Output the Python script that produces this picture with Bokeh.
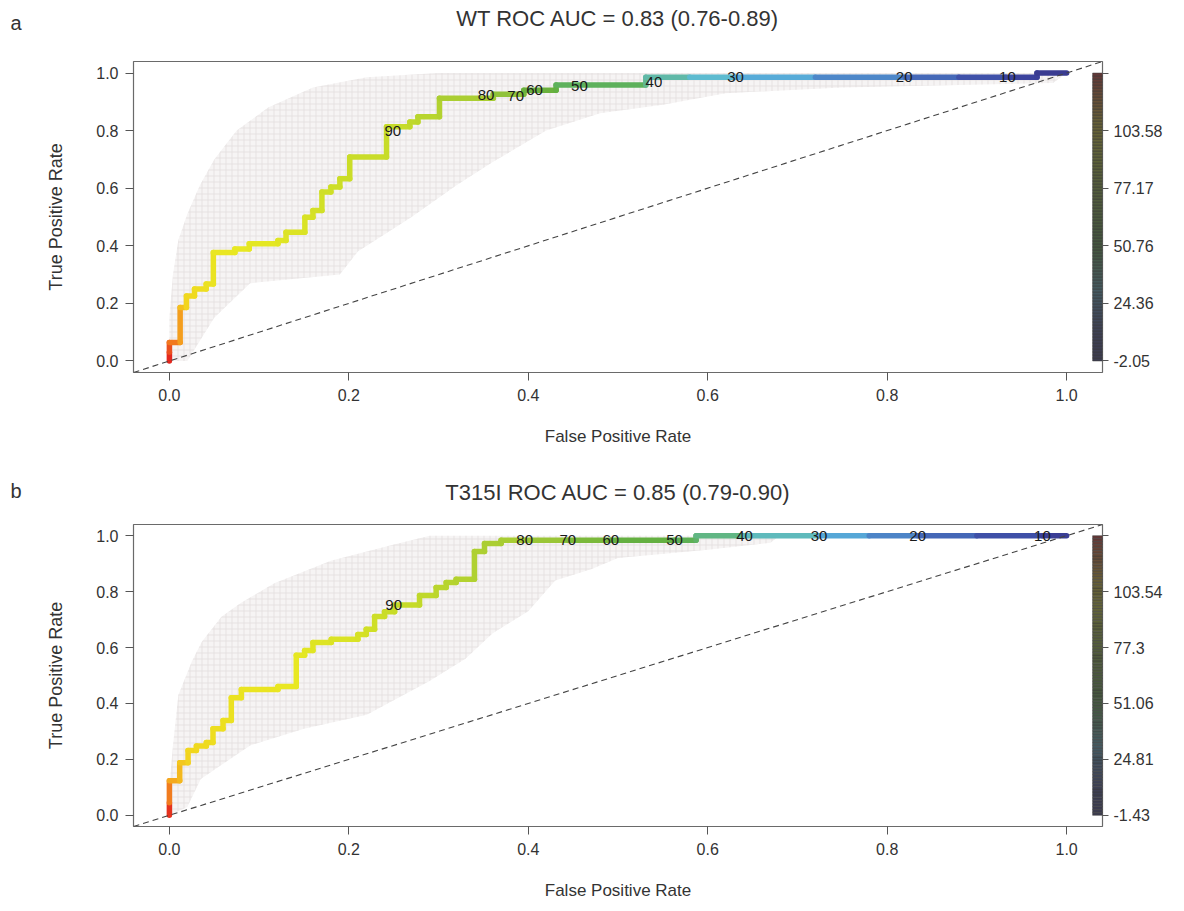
import numpy as np
from bokeh.plotting import figure
from bokeh.models import (ColumnDataSource, Range1d, LinearAxis, FixedTicker,
                          PrintfTickFormatter, Slope)
from bokeh.transform import linear_cmap
from bokeh.layouts import column
from bokeh.embed import file_html
from bokeh.resources import INLINE
from bokeh.core.properties import value

# ---------------- data ----------------
x_ticks = [0.0, 0.2, 0.4, 0.6, 0.8, 1.0]
y_ticks = [0.0, 0.2, 0.4, 0.6, 0.8, 1.0]

# Panel a (WT)
a_title = "WT ROC AUC = 0.83 (0.76-0.89)"
a_fpr = [0.000, 0.000, 0.000, 0.012, 0.012, 0.019, 0.019, 0.028, 0.028, 0.041, 0.041,
         0.049, 0.049, 0.073, 0.073, 0.089, 0.089, 0.121, 0.121, 0.130, 0.130,
         0.151, 0.151, 0.160, 0.160, 0.170, 0.170, 0.180, 0.180, 0.190, 0.190,
         0.201, 0.201, 0.242, 0.242, 0.268, 0.268, 0.277, 0.277, 0.301, 0.301,
         0.361, 0.361, 0.395, 0.395, 0.431, 0.431, 0.531, 0.531, 0.580, 0.630,
         0.720, 0.820, 0.880, 0.932, 0.967, 0.967, 1.000]
a_tpr = [0.000, 0.030, 0.064, 0.064, 0.186, 0.186, 0.226, 0.226, 0.250, 0.250, 0.267,
         0.267, 0.377, 0.377, 0.389, 0.389, 0.407, 0.407, 0.418, 0.418, 0.447,
         0.447, 0.499, 0.499, 0.523, 0.523, 0.587, 0.587, 0.604, 0.604, 0.633,
         0.633, 0.708, 0.708, 0.813, 0.813, 0.830, 0.830, 0.848, 0.848, 0.912,
         0.912, 0.926, 0.926, 0.940, 0.940, 0.958, 0.958, 0.985, 0.985, 0.985,
         0.985, 0.985, 0.985, 0.985, 0.985, 1.000, 1.000]
a_cut = [129.99, 127, 122, 118, 112, 108, 106, 105, 104, 103, 102,
         101, 100, 99, 98.5, 98, 97.5, 97, 96.5, 96, 95.5,
         95, 94.5, 94, 93.5, 93, 92.5, 92, 91.8, 91.6, 91.4,
         91.2, 91, 90.5, 90, 89, 88, 87, 86, 85, 83,
         79, 77, 66, 62, 55, 53, 41, 40, 35, 30,
         25, 20, 15, 10, 7, 5, -2.05]
a_lab_txt = ["90", "80", "70", "60", "50", "40", "30", "20", "10"]
a_lab_x = [0.249, 0.353, 0.386, 0.407, 0.457, 0.540, 0.631, 0.819, 0.934]
a_lab_y = [0.800, 0.922, 0.921, 0.940, 0.955, 0.970, 0.987, 0.987, 0.985]
a_band_x = [0.0, 0.0, 0.004, 0.01, 0.02, 0.034, 0.05, 0.075, 0.11, 0.16, 0.22, 0.30, 1.0,
            0.985, 0.75, 0.62, 0.55, 0.48, 0.42, 0.36, 0.32, 0.27, 0.21, 0.19, 0.09, 0.05, 0.03, 0.02]
a_band_y = [0.0, 0.15, 0.30, 0.42, 0.51, 0.61, 0.70, 0.80, 0.88, 0.95, 0.985, 1.0, 1.0,
            0.965, 0.95, 0.93, 0.89, 0.86, 0.80, 0.69, 0.61, 0.50, 0.38, 0.30, 0.27, 0.15, 0.05, 0.0]
a_cb_ticks = [-2.05, 24.36, 50.76, 77.17, 103.58, 129.99]
a_cb_labels = ["-2.05", "24.36", "50.76", "77.17", "103.58", ""]

# Panel b (T315I)
b_title = "T315I ROC AUC = 0.85 (0.79-0.90)"
b_fpr = [0.000, 0.000, 0.000, 0.0115, 0.0115, 0.0208, 0.0208, 0.0301, 0.0301, 0.0412, 0.0412,
         0.0486, 0.0486, 0.0598, 0.0598, 0.0690, 0.0690, 0.0802, 0.0802, 0.1210, 0.1210,
         0.1414, 0.1414, 0.1507, 0.1507, 0.1600, 0.1600, 0.1804, 0.1804, 0.2101, 0.2101,
         0.2194, 0.2194, 0.2287, 0.2287, 0.2398, 0.2398, 0.2510, 0.2510, 0.2788, 0.2788,
         0.2973, 0.2973, 0.3085, 0.3085, 0.3196, 0.3196, 0.3400, 0.3400, 0.3512, 0.3512,
         0.3697, 0.3697, 0.396, 0.444, 0.492, 0.563, 0.587, 0.587, 0.641, 0.724,
         0.780, 0.834, 0.900, 0.973, 1.000]
b_tpr = [0.000, 0.045, 0.124, 0.124, 0.188, 0.188, 0.232, 0.232, 0.248, 0.248, 0.260,
         0.260, 0.310, 0.310, 0.339, 0.339, 0.420, 0.420, 0.450, 0.450, 0.461,
         0.461, 0.572, 0.572, 0.589, 0.589, 0.618, 0.618, 0.630, 0.630, 0.647,
         0.647, 0.665, 0.665, 0.711, 0.711, 0.728, 0.728, 0.752, 0.752, 0.786,
         0.786, 0.815, 0.815, 0.833, 0.833, 0.844, 0.844, 0.943, 0.943, 0.972,
         0.972, 0.984, 0.984, 0.984, 0.984, 0.984, 0.984, 1.000, 1.000, 1.000,
         1.000, 1.000, 1.000, 1.000, 1.000]
b_cut = [129.78, 125, 114, 112, 110, 108, 107, 106, 105, 104.5, 104,
         103.5, 103, 102.5, 102, 101.5, 101, 100.5, 100, 99.5, 99,
         98.5, 98, 97.5, 97, 96.5, 96, 95.5, 95, 94.5, 94,
         93.5, 93, 92.5, 92, 91.5, 91, 90.5, 90, 89, 88,
         87, 86, 85.5, 85, 84.5, 84, 83.5, 82.5, 82, 81.5,
         81, 80.5, 80, 70, 60, 50, 47, 45, 40, 30,
         25, 20, 15, 10, -1.43]
b_lab_txt = ["90", "80", "70", "60", "50", "40", "30", "20", "10"]
b_lab_x = [0.250, 0.396, 0.444, 0.492, 0.563, 0.641, 0.724, 0.834, 0.973]
b_lab_y = [0.752, 0.985, 0.985, 0.985, 0.985, 1.000, 0.999, 0.999, 0.999]
b_band_x = [0.0, 0.0, 0.004, 0.01, 0.025, 0.036, 0.058, 0.08, 0.117, 0.18, 0.247, 0.29, 0.68,
            0.67, 0.60, 0.50, 0.47, 0.43, 0.40, 0.36, 0.33, 0.29, 0.22, 0.15, 0.09, 0.035, 0.02]
b_band_y = [0.0, 0.10, 0.25, 0.43, 0.55, 0.62, 0.71, 0.76, 0.83, 0.91, 0.966, 1.0, 1.0,
            0.975, 0.95, 0.92, 0.88, 0.84, 0.73, 0.65, 0.56, 0.48, 0.36, 0.31, 0.25, 0.13, 0.03]
b_cb_ticks = [-1.43, 24.81, 51.06, 77.30, 103.54, 129.78]
b_cb_labels = ["-1.43", "24.81", "51.06", "77.3", "103.54", ""]

# ---------------- styling helpers ----------------
FONT = "Liberation Sans"
TXT = "#333333"
W = 1180

pal_anchors = [(0.00, "#38388c"), (0.09, "#3c44a0"), (0.167, "#4878c2"), (0.243, "#5cbce0"),
               (0.318, "#62b894"), (0.394, "#5cae46"), (0.47, "#6cb23c"), (0.545, "#8cc03a"),
               (0.62, "#a6cc34"), (0.70, "#c8dc28"), (0.76, "#e8e822"), (0.83, "#f2d41e"),
               (0.88, "#f4a41e"), (0.94, "#f06a1e"), (1.00, "#e21e1e")]


def hex2rgb(h):
    return np.array([int(h[i:i + 2], 16) for i in (1, 3, 5)], dtype=float)


def build_palette(n=256, mix=0.0, gray=62.0):
    ts = np.array([a[0] for a in pal_anchors])
    cs = np.array([hex2rgb(a[1]) for a in pal_anchors])
    out = []
    for t in np.linspace(0, 1, n):
        rgb = np.array([np.interp(t, ts, cs[:, k]) for k in range(3)])
        rgb = rgb * (1 - mix) + gray * mix
        out.append("#%02x%02x%02x" % tuple(int(round(v)) for v in rgb))
    return out


PAL = build_palette()
PAL_DARK = build_palette(mix=0.78)


def make_header(height, title, title_y, letter, letter_y):
    h = figure(width=W, height=height, output_backend="svg", toolbar_location=None,
               x_range=Range1d(0, W), y_range=Range1d(height, 0),
               x_axis_type=None, y_axis_type=None, frame_align=False,
               min_border_left=0, min_border_right=0, min_border_top=0, min_border_bottom=0)
    h.grid.visible = False
    h.outline_line_color = None
    h.background_fill_color = "white"
    h.border_fill_color = "white"
    h.text(x=[617.5], y=[title_y], text=[title], text_font=value(FONT), text_font_size="22px",
           text_color=TXT, text_align="center", text_baseline="middle")
    h.text(x=[10], y=[letter_y], text=[letter], text_font=value(FONT), text_font_size="20px",
           text_color=TXT, text_align="left", text_baseline="middle")
    return h


def make_panel(fpr, tpr, cut, lab_txt, lab_x, lab_y, band_x, band_y,
               cb_ticks, cb_labels, height, top, bottom):
    lo, hi = cb_ticks[0], cb_ticks[-1]
    span = hi - lo
    p = figure(width=W, height=height, output_backend="svg", toolbar_location=None,
               x_range=Range1d(-0.04, 1.04), y_range=Range1d(-0.04, 1.04),
               min_border_left=133, min_border_right=W - 133 - 969,
               min_border_top=top, min_border_bottom=bottom)
    p.extra_y_ranges = {"cb": Range1d(lo - 0.04 * span, hi + 0.04 * span)}
    p.grid.visible = False
    p.outline_line_color = "#6a6a6a"
    p.outline_line_width = 1.2
    p.background_fill_color = "white"
    p.border_fill_color = "white"

    # bootstrap band
    p.patch(band_x, band_y, fill_color="#f6f4f4", line_color=None,
            hatch_pattern="+", hatch_color="#dcd7d7", hatch_scale=6, hatch_weight=0.6)

    # diagonal
    p.add_layout(Slope(gradient=1, y_intercept=0, line_color="#444444",
                       line_dash="6 4", line_width=1.1))

    # colored ROC curve
    f = np.array(fpr); t = np.array(tpr); c = np.array(cut, dtype=float)
    src = ColumnDataSource(dict(x0=f[:-1], y0=t[:-1], x1=f[1:], y1=t[1:],
                                c=(c[:-1] + c[1:]) / 2))
    p.segment("x0", "y0", "x1", "y1", source=src, line_width=5.5, line_cap="round",
              line_color=linear_cmap("c", PAL, lo, hi))

    # cutoff labels
    p.text(x=lab_x, y=lab_y, text=lab_txt, text_font=value(FONT), text_font_size="15px",
           text_align="center", text_baseline="middle", text_color="#1a1a1a")

    # colour key
    lv = np.linspace(lo, hi, 97)
    cb = ColumnDataSource(dict(bottom=lv[:-1], top=lv[1:], c=(lv[:-1] + lv[1:]) / 2))
    p.quad(left=1.029, right=1.04, bottom="bottom", top="top", source=cb, y_range_name="cb",
           fill_color=linear_cmap("c", PAL_DARK, lo, hi), line_color="#3a3a3a", line_width=0.5)

    # axes
    for ax, ticks in ((p.xaxis[0], x_ticks), (p.yaxis[0], y_ticks)):
        ax.ticker = FixedTicker(ticks=ticks)
        ax.formatter = PrintfTickFormatter(format="%.1f")
        ax.axis_line_color = None
        ax.major_tick_out = 8
        ax.major_tick_in = 0
        ax.major_tick_line_color = "#555555"
        ax.minor_tick_line_color = None
        ax.major_label_text_font = FONT
        ax.major_label_text_font_size = "16px"
        ax.major_label_text_color = TXT
        ax.axis_label_text_font = FONT
        ax.axis_label_text_font_style = "normal"
        ax.axis_label_text_color = TXT
    p.xaxis.major_label_standoff = 8
    p.yaxis.major_label_standoff = 7
    p.xaxis.axis_label = "False Positive Rate"
    p.xaxis.axis_label_text_font_size = "17px"
    p.xaxis.axis_label_standoff = 23
    p.yaxis.axis_label = "True Positive Rate"
    p.yaxis.axis_label_text_font_size = "18px"
    p.yaxis.axis_label_standoff = 27

    rax = LinearAxis(y_range_name="cb", ticker=FixedTicker(ticks=cb_ticks),
                     major_label_overrides={k: v for k, v in zip(cb_ticks, cb_labels)})
    rax.axis_line_color = None
    rax.major_tick_out = 6
    rax.major_tick_in = 0
    rax.major_tick_line_color = "#555555"
    rax.minor_tick_line_color = None
    rax.major_label_text_font = FONT
    rax.major_label_text_font_size = "16px"
    rax.major_label_text_color = TXT
    rax.major_label_standoff = 5
    p.add_layout(rax, "right")
    return p


ha = make_header(40, a_title, 18, "a", 22)
pa = make_panel(a_fpr, a_tpr, a_cut, a_lab_txt, a_lab_x, a_lab_y, a_band_x, a_band_y,
                a_cb_ticks, a_cb_labels, 415, 21, 83)
hb = make_header(50, b_title, 37, "b", 35)
pb = make_panel(b_fpr, b_tpr, b_cut, b_lab_txt, b_lab_x, b_lab_y, b_band_x, b_band_y,
                b_cb_ticks, b_cb_labels, 397, 19, 67)

layout = column(ha, pa, hb, pb, spacing=0)
open("out.html", "w").write(file_html(layout, INLINE))
